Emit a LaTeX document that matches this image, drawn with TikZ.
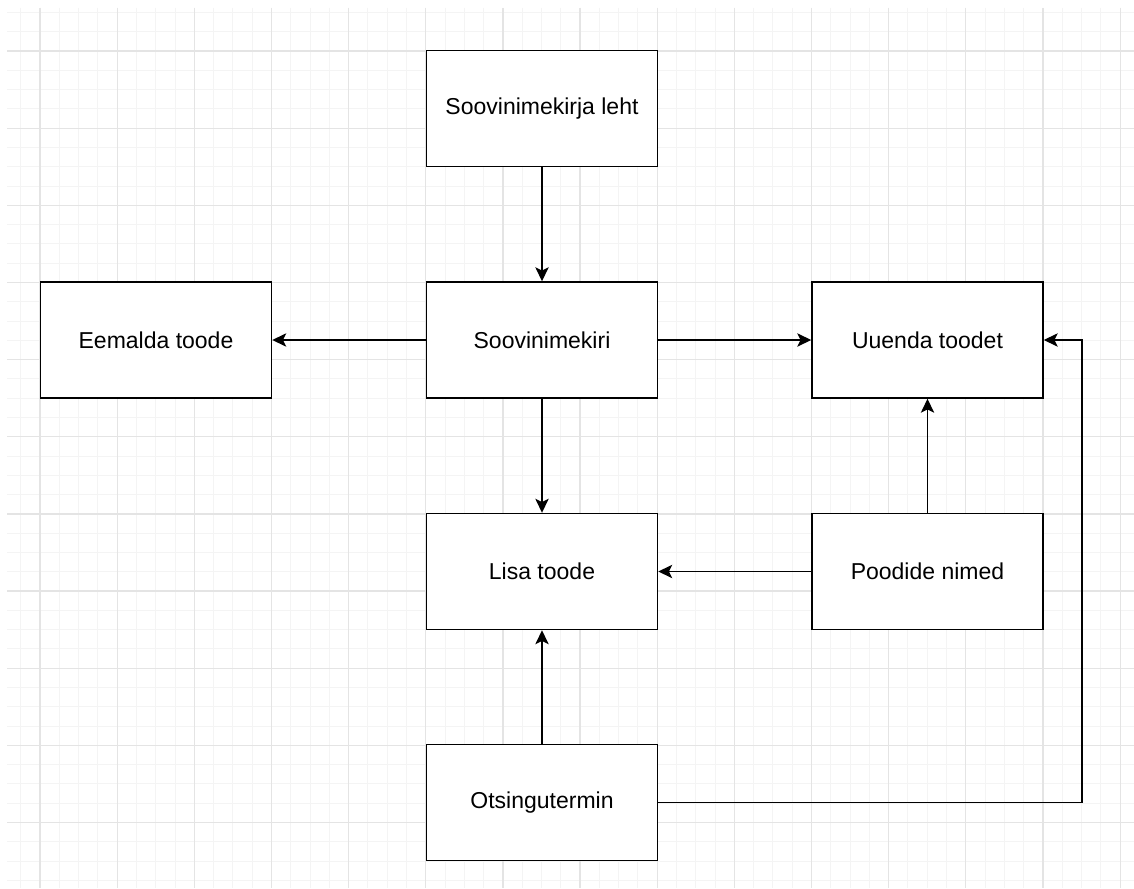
\documentclass[tikz,border=0pt]{standalone}
\usepackage{fontspec}
\setmainfont{Liberation Sans}
\usetikzlibrary{arrows.meta}
\definecolor{minorgrid}{HTML}{F4F4F4}
\definecolor{majorgrid}{HTML}{E4E4E4}
\tikzset{
  box/.style={draw=black, line width=1.1pt, fill=white, rectangle,
    minimum width=173.25pt, minimum height=87pt, inner sep=0pt,
    font=\fontsize{17.25}{20}\selectfont},
  arr/.style={draw=black, line width=1.1pt,
    -{Stealth[length=10.5pt, width=10pt, inset=2.5pt]}},
  minorline/.style={draw=minorgrid, line width=0.75pt},
  majorline/.style={draw=majorgrid, line width=0.9pt}
}
\begin{document}
\begin{tikzpicture}[x=0.75pt,y=-0.75pt]
\useasboundingbox (0,0) rectangle (1134,888);
\fill[white] (0,0) rectangle (1134,888);
\begin{scope}
\clip (7,8) rectangle (1134,888);
\foreach \i in {-1,...,57} \draw[minorline] ({40+19.2875*\i},8) -- ({40+19.2875*\i},888);
\foreach \j in {-2,...,43} \draw[minorline] (7,{51+19.2875*\j}) -- (1134,{51+19.2875*\j});
\foreach \i in {0,...,14} \draw[majorline] ({40+77.15*\i},8) -- ({40+77.15*\i},888);
\foreach \j in {0,...,10} \draw[majorline] (7,{51+77.15*\j}) -- (1134,{51+77.15*\j});
\end{scope}

\node[box] (leht) at (542,108.5) {Soovinimekirja leht};
\node[box] (eem) at (156,340) {Eemalda toode};
\node[box] (soov) at (542,340) {Soovinimekiri};
\node[box] (uu) at (927.5,340) {Uuenda toodet};
\node[box] (lisa) at (542,571.5) {Lisa toode};
\node[box] (pood) at (927.5,571.5) {Poodide nimed};
\node[box] (ots) at (542,802.5) {Otsingutermin};
\coordinate (bend) at (1082,340);

\draw[arr] (leht.south) -- (soov.north);
\draw[arr] (soov.west) -- (eem.east);
\draw[arr] (soov.east) -- (uu.west);
\draw[arr] (soov.south) -- (lisa.north);
\draw[arr] (pood.west) -- (lisa.east);
\draw[arr] (pood.north) -- (uu.south);
\draw[arr] (ots.north) -- (lisa.south);
\draw[arr] (ots.east) -| (bend) -- (uu.east);
\end{tikzpicture}
\end{document}
